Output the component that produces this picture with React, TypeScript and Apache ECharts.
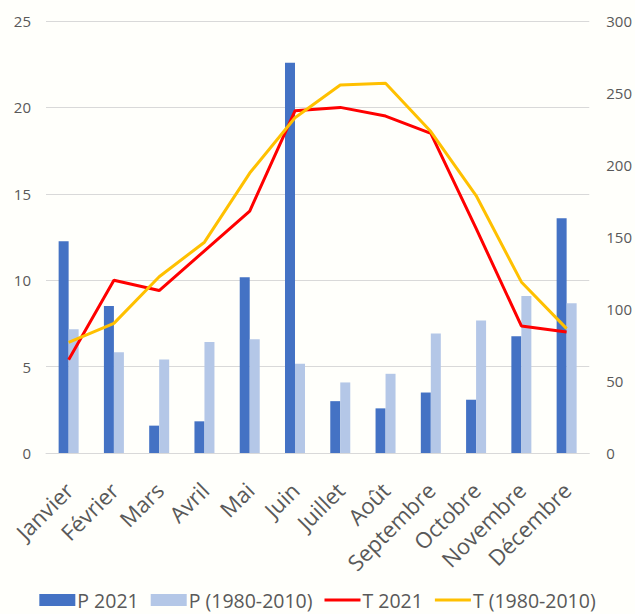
import React, { useEffect, useRef } from "react";
import * as echarts from "echarts";

const months = ["Janvier", "Février", "Mars", "Avril", "Mai", "Juin", "Juillet", "Août", "Septembre", "Octobre", "Novembre", "Décembre"];
const p2021 = [147, 102, 19, 22, 122, 271, 36, 31, 42, 37, 81, 163];
const pNormal = [86, 70, 65, 77, 79, 62, 49, 55, 83, 92, 109, 104];
const t2021 = [5.4, 10.0, 9.4, 11.7, 14.0, 19.8, 20.0, 19.5, 18.5, 13.0, 7.35, 7.0];
const tNormal = [6.4, 7.5, 10.2, 12.2, 16.2, 19.4, 21.3, 21.4, 18.6, 14.9, 9.9, 7.2];

const FONT = "'Open Sans', 'Noto Sans', sans-serif";
const GRAY = "#595959";
const LINE_ICON = "path://M0 0 H38 V3 H0 Z";

export default function App() {
  const ref = useRef<HTMLDivElement>(null);
  useEffect(() => {
    document.body.style.margin = "0";
    const chart = echarts.init(ref.current!, null, { renderer: "svg" });
    chart.setOption({
      animation: false,
      backgroundColor: "#fffffb",
      textStyle: { fontFamily: FONT },
      grid: { left: 46, right: 45, top: 21, bottom: 161, containLabel: false },
      legend: {
        bottom: -1,
        left: "center",
        itemWidth: 36,
        itemHeight: 12,
        itemGap: 12,
        textStyle: { fontSize: 19.5, color: GRAY, fontFamily: FONT, padding: [0, 0, 0, -3] },
        data: [
          { name: "P 2021", icon: "rect" },
          { name: "P (1980-2010)", icon: "rect" },
          { name: "T 2021", icon: LINE_ICON, itemStyle: { color: "#FF0000" } },
          { name: "T (1980-2010)", icon: LINE_ICON, itemStyle: { color: "#FFC000" } },
        ],
      },
      xAxis: {
        type: "category",
        data: months,
        axisLine: { show: true, lineStyle: { color: "#d9d9d9", width: 1 } },
        axisTick: { show: false },
        axisLabel: { rotate: 45, interval: 0, fontSize: 22, color: GRAY, margin: 33, fontFamily: FONT },
      },
      yAxis: [
        {
          type: "value",
          min: 0,
          max: 25,
          interval: 5,
          axisLine: { show: false },
          axisTick: { show: false },
          axisLabel: { fontSize: 15, color: GRAY, margin: 15, fontFamily: FONT },
          splitLine: { lineStyle: { color: "#d9d9d9", width: 1 } },
        },
        {
          type: "value",
          min: 0,
          max: 300,
          interval: 50,
          axisLine: { show: false },
          axisTick: { show: false },
          axisLabel: { fontSize: 15, color: GRAY, margin: 17, fontFamily: FONT },
          splitLine: { show: false },
        },
      ],
      series: [
        {
          name: "P 2021",
          type: "bar",
          yAxisIndex: 1,
          data: p2021,
          barWidth: 10,
          barGap: "0%",
          itemStyle: { color: "#4472C4" },
        },
        {
          name: "P (1980-2010)",
          type: "bar",
          yAxisIndex: 1,
          data: pNormal,
          barWidth: 10,
          barGap: "0%",
          itemStyle: { color: "#B4C7E7" },
        },
        {
          name: "T 2021",
          type: "line",
          yAxisIndex: 0,
          data: t2021,
          symbol: "none",
          lineStyle: { color: "#FF0000", width: 3 },
          itemStyle: { color: "#FF0000" },
          z: 3,
        },
        {
          name: "T (1980-2010)",
          type: "line",
          yAxisIndex: 0,
          data: tNormal,
          symbol: "none",
          lineStyle: { color: "#FFC000", width: 3 },
          itemStyle: { color: "#FFC000" },
          z: 4,
        },
      ],
    });
    return () => chart.dispose();
  }, []);
  return <div ref={ref} style={{ width: 635, height: 614 }} />;
}
